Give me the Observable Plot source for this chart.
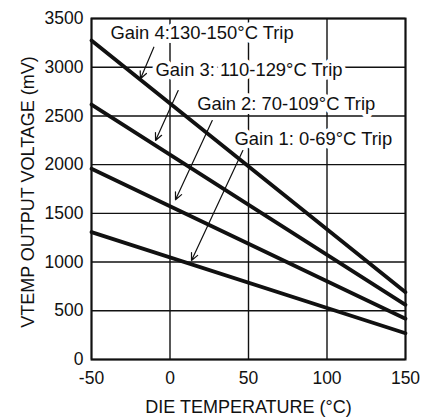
<!DOCTYPE html>
<html>
<head>
<meta charset="utf-8">
<script src="https://cdn.jsdelivr.net/npm/d3@7"></script>
<script src="https://cdn.jsdelivr.net/npm/@observablehq/plot@0.6"></script>
<style>
  html, body { margin: 0; padding: 0; background: #fff; }
  svg { display: block; }
</style>
</head>
<body>
<div id="chart"></div>
<script>
// Data
const temps = [-50, 150];
const gain1 = [1307, 270];
const gain2 = [1957, 418];
const gain3 = [2617, 561];
const gain4 = [3274, 691];

const xTicks = [-50, 0, 50, 100, 150];
const yTicks = [0, 500, 1000, 1500, 2000, 2500, 3000, 3500];

const labelText = ["Gain 4:130-150°C Trip", "Gain 3: 110-129°C Trip", "Gain 2: 70-109°C Trip", "Gain 1: 0-69°C Trip"];
const labelX = [-37.9, -9.2, 17.3, 41.1];
const labelY = [3346, 2969, 2624, 2265];

const arrowX1 = [-10.3, 5.2, 26.9, 46.4];
const arrowY1 = [3205, 2761, 2453, 2145];
const arrowX2 = [-18.8, -9.2, 3.5, 13.7];
const arrowY2 = [2881, 2248, 1639, 1016];

const xTitle = "DIE TEMPERATURE (°C)";
const yTitle = "VTEMP OUTPUT VOLTAGE (mV)";

const series = [gain1, gain2, gain3, gain4];
const lineData = series.flatMap((vals, s) => vals.map((v, i) => ({series: s, t: temps[i], v})));
const labels = labelText.map((text, i) => ({text, x: labelX[i], y: labelY[i]}));
const arrows = arrowX1.map((_, i) => ({x1: arrowX1[i], y1: arrowY1[i], x2: arrowX2[i], y2: arrowY2[i]}));

const font = "'Liberation Sans', Arial, Helvetica, sans-serif";
const fmt = d => String(d);

const chart = Plot.plot({
  width: 423,
  height: 417,
  marginLeft: 91,
  marginRight: 18,
  marginTop: 18,
  marginBottom: 58,
  style: {fontFamily: font, background: "#fff", color: "#111"},
  x: {domain: [-50, 150]},
  y: {domain: [0, 3500]},
  marks: [
    Plot.gridX(xTicks, {stroke: "#111", strokeOpacity: 1, strokeWidth: 1.4}),
    Plot.gridY(yTicks, {stroke: "#111", strokeOpacity: 1, strokeWidth: 1.4}),
    Plot.text(labels, {x: "x", y: "y", text: "text", textAnchor: "start", lineAnchor: "middle",
      fontSize: 18.4, fill: "#111", stroke: "white", strokeWidth: 8}),
    Plot.frame({stroke: "#111", strokeWidth: 2}),
    Plot.line(lineData, {x: "t", y: "v", z: "series", stroke: "#111", strokeWidth: 3.8}),
    Plot.arrow(arrows, {x1: "x1", y1: "y1", x2: "x2", y2: "y2", stroke: "#111", strokeWidth: 1.2, headLength: 10, headAngle: 50}),
    Plot.axisX(xTicks, {tickSize: 0, tickPadding: 12, fontSize: 17.5, label: null, fill: "#111", tickFormat: fmt}),
    Plot.axisY(yTicks, {tickSize: 0, tickPadding: 8, fontSize: 17.5, label: null, fill: "#111", tickFormat: fmt}),
    Plot.text([xTitle], {frameAnchor: "bottom", textAnchor: "middle", lineAnchor: "bottom", dy: 53.7, fontSize: 18, fill: "#111"}),
    Plot.text([yTitle], {frameAnchor: "left", textAnchor: "middle", rotate: -90, lineAnchor: "bottom", dx: -58, dy: 3, fontSize: 18, fill: "#111"})
  ]
});
document.getElementById("chart").appendChild(chart);
</script>
</body>
</html>
